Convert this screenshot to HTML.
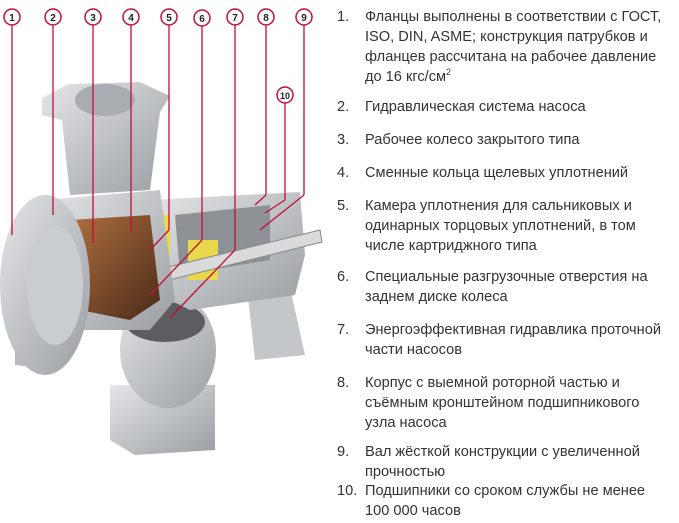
<!DOCTYPE html>
<html><head><meta charset="utf-8"><style>
body{margin:0;width:679px;height:523px;background:#fff;overflow:hidden;position:relative;font-family:"Liberation Sans","DejaVu Sans",sans-serif;}
svg{position:absolute;left:0;top:0}
.t{position:absolute;font-size:14.6px;color:#333;line-height:20px;white-space:nowrap;}
.n{position:absolute;left:337px;font-size:14.6px;color:#333;line-height:20px;}
sup{font-size:9px;line-height:0;vertical-align:6px}
</style></head><body>
<svg width="330" height="523" viewBox="0 0 330 523">
<defs>
<linearGradient id="g" x1="0" y1="0" x2="1" y2="1"><stop offset="0" stop-color="#e4e6e8"/><stop offset="1" stop-color="#9a9ea2"/></linearGradient>
<linearGradient id="c" x1="0" y1="0" x2="1" y2="1"><stop offset="0" stop-color="#b07040"/><stop offset="1" stop-color="#4a2a18"/></linearGradient>
</defs>
<path d="M110 385 L215 385 L215 450 L135 455 L110 440Z" fill="url(#g)"/>
<path d="M15 345 L60 345 L60 370 L15 365Z" fill="#b8bbbe"/>
<ellipse cx="168" cy="350" rx="48" ry="58" fill="url(#g)"/>
<ellipse cx="165" cy="322" rx="40" ry="20" fill="#5b5d60"/>
<path d="M245 270 L285 265 L305 355 L255 360Z" fill="#c4c7ca"/>
<path d="M150 200 L300 192 L305 255 L295 295 L190 310 L150 290Z" fill="url(#g)"/>
<path d="M175 215 L270 205 L270 260 L180 275Z" fill="#8e9296"/>
<rect x="150" y="215" width="20" height="40" fill="#e8d84a"/>
<rect x="188" y="240" width="30" height="40" fill="#e8d84a"/>
<path d="M95 285 L320 230 L322 242 L97 298Z" fill="#d8dadc" stroke="#888" stroke-width="1"/>
<path d="M45 200 L160 190 L175 300 L150 330 L60 330 L40 260Z" fill="url(#g)"/>
<path d="M70 220 L150 215 L160 300 L130 320 L80 310Z" fill="url(#c)"/>
<path d="M42 98 L68 84 L140 82 L170 96 L160 112 L150 190 L70 195 L62 120 L42 115Z" fill="url(#g)"/>
<ellipse cx="105" cy="100" rx="30" ry="16" fill="#a9adb1"/>
<rect x="44" y="215" width="16" height="18" fill="#5a4a44"/>
<ellipse cx="45" cy="285" rx="45" ry="90" fill="url(#g)"/>
<ellipse cx="55" cy="285" rx="28" ry="60" fill="#c9ccd0"/>
<g stroke="#c0103a" stroke-width="1.3" fill="none">
<line x1="12" y1="25" x2="12" y2="235"/>
<line x1="53" y1="25" x2="53" y2="215"/>
<line x1="93" y1="25" x2="93" y2="243"/>
<line x1="131" y1="25" x2="131" y2="232"/>
<line x1="169" y1="25" x2="169" y2="230"/><line x1="169" y1="230" x2="150" y2="250"/>
<line x1="202" y1="25" x2="202" y2="240"/><line x1="202" y1="240" x2="150" y2="295"/>
<line x1="235" y1="25" x2="235" y2="250"/><line x1="235" y1="250" x2="170" y2="318"/>
<line x1="266" y1="25" x2="266" y2="195"/><line x1="266" y1="195" x2="255" y2="205"/>
<line x1="304" y1="25" x2="304" y2="195"/><line x1="304" y1="195" x2="260" y2="230"/>
<line x1="285" y1="103" x2="285" y2="200"/><line x1="285" y1="200" x2="265" y2="213"/>
</g>
<g fill="#fff" stroke="#c0103a" stroke-width="1.5">
<circle cx="12" cy="17" r="8"/><circle cx="53" cy="17" r="8"/><circle cx="93" cy="17" r="8"/>
<circle cx="131" cy="17" r="8"/><circle cx="169" cy="17" r="8"/><circle cx="202" cy="18" r="8"/>
<circle cx="235" cy="17" r="8"/><circle cx="266" cy="17" r="8"/><circle cx="304" cy="17" r="8"/>
<circle cx="285" cy="95" r="8"/>
</g>
<g font-size="10" font-weight="bold" fill="#222" text-anchor="middle" font-family="Liberation Sans">
<text x="12" y="21">1</text><text x="53" y="21">2</text><text x="93" y="21">3</text>
<text x="131" y="21">4</text><text x="169" y="21">5</text><text x="202" y="22">6</text>
<text x="235" y="21">7</text><text x="266" y="21">8</text><text x="304" y="21">9</text>
<text x="285" y="99" font-size="9">10</text>
</g>
</svg>
<div class="n" style="top:7px">1.</div>
<div class="t" style="left:365px;top:7px">Фланцы выполнены в соответствии с ГОСТ,<br>ISO, DIN, ASME; конструкция патрубков и<br>фланцев рассчитана на рабочее давление<br>до 16 кгс/см<sup>2</sup></div>
<div class="n" style="top:97px">2.</div><div class="t" style="left:365px;top:97px">Гидравлическая система насоса</div>
<div class="n" style="top:130px">3.</div><div class="t" style="left:365px;top:130px">Рабочее колесо закрытого типа</div>
<div class="n" style="top:163px">4.</div><div class="t" style="left:365px;top:163px">Сменные кольца щелевых уплотнений</div>
<div class="n" style="top:196px">5.</div><div class="t" style="left:365px;top:196px">Камера уплотнения для сальниковых и<br>одинарных торцовых уплотнений, в том<br>числе картриджного типа</div>
<div class="n" style="top:267px">6.</div><div class="t" style="left:365px;top:267px">Специальные разгрузочные отверстия на<br>заднем диске колеса</div>
<div class="n" style="top:320px">7.</div><div class="t" style="left:365px;top:320px">Энергоэффективная гидравлика проточной<br>части насосов</div>
<div class="n" style="top:373px">8.</div><div class="t" style="left:365px;top:373px">Корпус с выемной роторной частью и<br>съёмным кронштейном подшипникового<br>узла насоса</div>
<div class="n" style="top:442px">9.</div><div class="t" style="left:365px;top:442px">Вал жёсткой конструкции с увеличенной<br>прочностью</div>
<div class="n" style="top:481px">10.</div><div class="t" style="left:365px;top:481px">Подшипники со сроком службы не менее<br>100 000 часов</div>
</body></html>
